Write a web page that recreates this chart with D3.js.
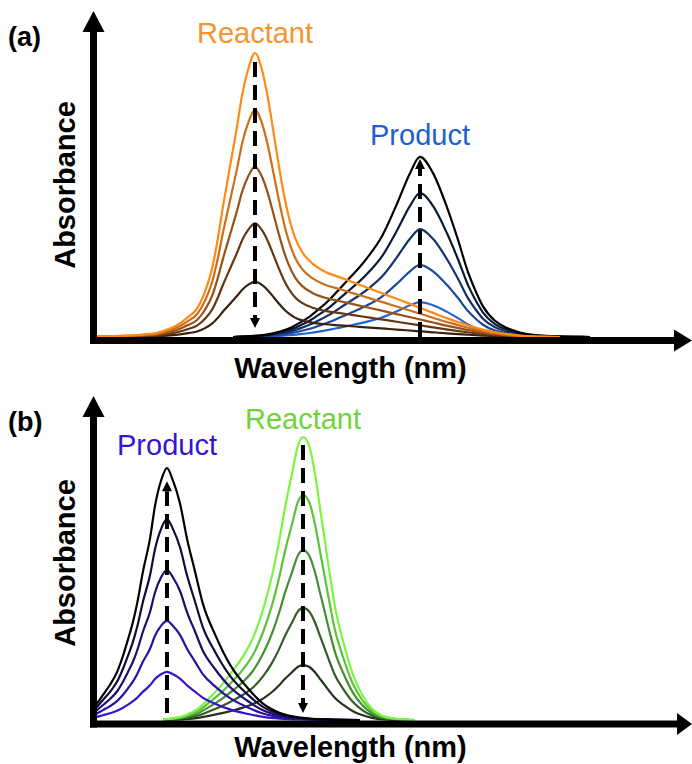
<!DOCTYPE html>
<html>
<head>
<meta charset="utf-8">
<script src="https://cdn.jsdelivr.net/npm/d3@7"></script>
<style>
  body { margin: 0; background: #fff; }
  svg { display: block; }
  text { font-family: "Liberation Sans", Arial, Helvetica, sans-serif; }
</style>
</head>
<body>
<svg id="chart" width="692" height="764"></svg>
<script>
// ---- Band shapes: [wavelength (nm), absorbance normalised to the band maximum] ----
const reactantBandA = [
  [304, 0.001], [327, 0.004], [347, 0.008], [364, 0.015], [377, 0.03], [387, 0.048],
  [395, 0.07], [404, 0.1], [412, 0.16], [419, 0.24], [425, 0.35], [430, 0.46],
  [435, 0.56], [439, 0.64], [444, 0.74], [449, 0.85], [455, 0.94], [462, 1.0],
  [469, 0.94], [475, 0.84], [481, 0.71], [486, 0.6], [491, 0.5], [496, 0.42],
  [502, 0.35], [509, 0.3], [519, 0.26], [532, 0.23], [547, 0.21], [562, 0.19],
  [577, 0.17], [592, 0.15], [607, 0.13], [624, 0.107], [640, 0.085], [657, 0.062],
  [674, 0.042], [690, 0.026], [707, 0.014], [724, 0.006], [740, 0.002], [767, 0]
];
const productBandA = [
  [440, 0], [457, 0.005], [472, 0.012], [487, 0.03], [497, 0.05], [507, 0.08],
  [517, 0.115], [527, 0.16], [537, 0.21], [547, 0.27], [557, 0.33], [567, 0.39],
  [577, 0.46], [589, 0.56], [604, 0.74], [617, 0.91], [627, 1.0], [640, 0.91],
  [654, 0.72], [665, 0.54], [675, 0.36], [683, 0.25], [690, 0.17], [702, 0.09],
  [714, 0.05], [727, 0.025], [740, 0.012], [757, 0.005], [777, 0.001], [797, 0]
];
const productBandB = [
  [303, 0.06], [310, 0.1], [317, 0.14], [324, 0.19], [330, 0.255], [335, 0.32],
  [340, 0.39], [344, 0.46], [350, 0.59], [357, 0.72], [362, 0.85], [368, 0.95],
  [374, 1.0], [380, 0.95], [387, 0.86], [394, 0.72], [402, 0.59], [410, 0.46],
  [422, 0.34], [437, 0.22], [454, 0.13], [470, 0.065], [487, 0.028], [507, 0.01],
  [537, 0.002], [567, 0]
];
const reactantBandB = [
  [370, 0.002], [380, 0.006], [392, 0.016], [405, 0.04], [417, 0.08], [429, 0.125],
  [439, 0.17], [450, 0.225], [460, 0.29], [470, 0.39], [479, 0.51], [486, 0.63],
  [492, 0.75], [499, 0.87], [505, 0.97], [510, 1.0], [516, 0.97], [522, 0.87],
  [527, 0.75], [532, 0.63], [537, 0.51], [542, 0.4], [550, 0.28], [560, 0.16],
  [569, 0.09], [579, 0.04], [592, 0.012], [607, 0.003], [622, 0]
];

// ---- Peak absorbance of every recorded spectrum ----
const reactantPeaksA = [1.00, 0.80, 0.60, 0.40, 0.195];
const productPeaksA  = [0.634, 0.507, 0.380, 0.254, 0.123];
const productPeaksB  = [0.890, 0.710, 0.530, 0.350, 0.170];
const reactantPeaksB = [1.00, 0.795, 0.600, 0.396, 0.194];

// ---- Line colours, same order as the peak lists ----
const reactantColorsA = ["#ff8a14", "#cc6e1a", "#99521a", "#663714", "#3b2210"];
const productColorsA  = ["#000000", "#0a1b36", "#13326a", "#1b499c", "#2463d2"];
const productColorsB  = ["#000000", "#140a3a", "#1f0e6e", "#2a11a0", "#3713d0"];
const reactantColorsB = ["#7cf542", "#5cc23a", "#468e34", "#335e28", "#21361a"];

// ---- Text ----
const panelLabels = ["(a)", "(b)"];
const xTitle = "Wavelength (nm)";
const yTitle = "Absorbance";
const speciesNames = { reactant: "Reactant", product: "Product" };

const svg = d3.select("#chart");
const x = d3.scaleLinear().domain([300, 900]).range([93, 693]);

const panels = [
  {
    label: panelLabels[0], base: 337, top: 53, axisTop: 11, axisY: 340.5, arrowEnd: 674,
    labelY: 46, yTitleY: 185, xTitleY: 378,
    series: [
      { band: productBandA, peaks: productPeaksA, colors: productColorsA,
        name: speciesNames.product, nameColor: "#1f5fcf", nameY: 145,
        dir: "up", dashFrom: 0, tipGap: 2 },
      { band: reactantBandA, peaks: reactantPeaksA, colors: reactantColorsA,
        name: speciesNames.reactant, nameColor: "#f7942f", nameY: 43,
        dir: "down", dashFrom: 9, tipGap: 9 }
    ]
  },
  {
    label: panelLabels[1], base: 720, top: 437, axisTop: 396, axisY: 724, arrowEnd: 677,
    labelY: 431, yTitleY: 563, xTitleY: 757,
    series: [
      { band: reactantBandB, peaks: reactantPeaksB, colors: reactantColorsB,
        name: speciesNames.reactant, nameColor: "#6ed43a", nameY: 429,
        dir: "down", dashFrom: 8, tipGap: 7 },
      { band: productBandB, peaks: productPeaksB, colors: productColorsB,
        name: speciesNames.product, nameColor: "#3415d0", nameY: 455,
        dir: "up", dashFrom: 7, tipGap: 13 }
    ]
  }
];

panels.forEach(p => {
  const g = svg.append("g");
  const y = d3.scaleLinear().domain([0, 1]).range([p.base, p.top]);
  const line = d3.line()
    .x(d => x(d[0]))
    .y(d => y(d[1]))
    .curve(d3.curveMonotoneX);

  // spectra, smallest first so the strongest band sits on top
  p.series.forEach(s => {
    const spectra = s.peaks.map((a, i) => ({ a, color: s.colors[i] }))
      .sort((m, n) => m.a - n.a);
    g.selectAll(null)
      .data(spectra)
      .enter().append("path")
      .attr("d", d => line(s.band.map(([w, v]) => [w, v * d.a])))
      .attr("fill", "none")
      .attr("stroke", d => d.color)
      .attr("stroke-width", 2.2)
      .attr("stroke-linejoin", "round");
  });

  // axes with arrow heads
  g.append("rect")
    .attr("x", 90).attr("y", p.axisTop + 20)
    .attr("width", 7).attr("height", p.axisY + 3.5 - (p.axisTop + 20))
    .attr("fill", "#000");
  g.append("path")
    .attr("d", `M82.5,${p.axisTop + 21}L104.5,${p.axisTop + 21}L93.5,${p.axisTop}Z`)
    .attr("fill", "#000");
  g.append("rect")
    .attr("x", 90).attr("y", p.axisY - 3.5)
    .attr("width", p.arrowEnd + 1 - 90).attr("height", 7)
    .attr("fill", "#000");
  g.append("path")
    .attr("d", `M${p.arrowEnd},${p.axisY - 11}L${p.arrowEnd},${p.axisY + 11}L692,${p.axisY}Z`)
    .attr("fill", "#000");

  // dashed arrows through each band maximum
  p.series.forEach(s => {
    const peakIdx = d3.maxIndex(s.band, d => d[1]);
    const px = x(s.band[peakIdx][0]);
    const top = y(d3.max(s.peaks));
    let y0, y1, tip;
    if (s.dir === "down") {
      y0 = top + s.dashFrom;
      tip = p.base - s.tipGap;
      y1 = tip - 10;
    } else {
      y0 = p.base - s.dashFrom;
      tip = top + s.tipGap;
      y1 = tip + 10;
    }
    const head = `M${px - 5},${y1}L${px + 5},${y1}L${px},${tip}Z`;
    g.append("line")
      .attr("x1", px).attr("x2", px)
      .attr("y1", y0).attr("y2", y1)
      .attr("stroke", "#000")
      .attr("stroke-width", 4)
      .attr("stroke-dasharray", "15 8");
    g.append("path").attr("d", head).attr("fill", "#000");

    g.append("text")
      .attr("x", px).attr("y", s.nameY)
      .attr("text-anchor", "middle")
      .attr("font-size", 29)
      .attr("fill", s.nameColor)
      .text(s.name);
  });

  // titles
  g.append("text")
    .attr("x", 8).attr("y", p.labelY)
    .attr("font-size", 27).attr("font-weight", "bold")
    .text(p.label);
  g.append("text")
    .attr("transform", `translate(75,${p.yTitleY}) rotate(-90)`)
    .attr("text-anchor", "middle")
    .attr("font-size", 29).attr("font-weight", "bold")
    .text(yTitle);
  g.append("text")
    .attr("x", 350.5).attr("y", p.xTitleY)
    .attr("text-anchor", "middle")
    .attr("font-size", 29).attr("font-weight", "bold")
    .text(xTitle);
});
</script>
</body>
</html>
